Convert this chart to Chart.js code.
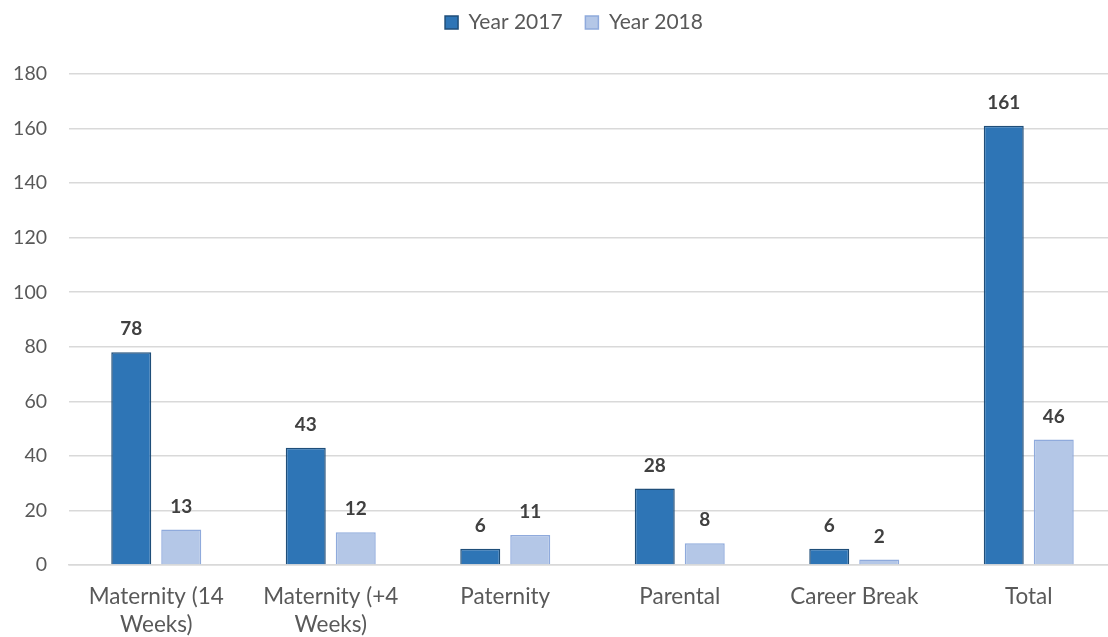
<!DOCTYPE html>
<html>
<head>
<meta charset="utf-8">
<script src="https://cdn.jsdelivr.net/npm/chart.js@4/dist/chart.umd.min.js"></script>
<style>
  html, body { margin: 0; padding: 0; background: #fff; overflow: hidden; }
  #wrap { width: 1176px; height: 637px; position: relative; }
</style>
</head>
<body>
<div id="wrap"><canvas id="leave"></canvas></div>
<script>
// leave taken by type, per year
var categories = [
    ['Maternity (14', 'Weeks)'],
    ['Maternity (+4', 'Weeks)'],
    'Paternity',
    'Parental',
    'Career Break',
    'Total'
];
var year2017 = [78, 43, 6, 28, 6, 161];
var year2018 = [13, 12, 11, 8, 2, 46];
var yTicks = [0, 20, 40, 60, 80, 100, 120, 140, 160, 180];

var FONT = "Lato, 'Open Sans', sans-serif";
var TEXT = '#595959';
var GRID = '#D9D9D9';
var LEGEND_HEIGHT = 74;
var LEGEND_SHIFT = 16;

// bold value above each bar
var valueLabels = {
    id: 'valueLabels',
    afterDatasetsDraw: function (chart) {
        var ctx = chart.ctx;
        ctx.save();
        ctx.font = 'bold 19px ' + FONT;
        ctx.fillStyle = '#404040';
        ctx.textAlign = 'center';
        ctx.textBaseline = 'alphabetic';
        chart.data.datasets.forEach(function (ds, i) {
            chart.getDatasetMeta(i).data.forEach(function (bar, j) {
                ctx.fillText(String(ds.data[j]), bar.x, bar.y - 17);
            });
        });
        ctx.restore();
    }
};

// fixed legend band so the plot starts lower, legend nudged right
var legendBand = {
    id: 'legendBand',
    beforeInit: function (chart) {
        var legend = chart.legend;
        var fit = legend.fit;
        var draw = legend.draw;
        legend.fit = function () {
            fit.call(this);
            this.height = LEGEND_HEIGHT;
        };
        legend.draw = function () {
            var ctx = this.ctx;
            ctx.save();
            ctx.translate(LEGEND_SHIFT, 0);
            draw.call(this);
            ctx.restore();
        };
    }
};

function barSet(label, values, fill, stroke) {
    return {
        label: label,
        data: values,
        backgroundColor: fill,
        borderColor: stroke,
        borderWidth: 1.5,
        categoryPercentage: 0.573,
        barPercentage: 0.8
    };
}

new Chart(document.getElementById('leave'), {
    type: 'bar',
    data: {
        labels: categories,
        datasets: [
            barSet('Year 2017', year2017, '#2E75B6', '#1F4E79'),
            barSet('Year 2018', year2018, '#B4C7E7', '#8FAADC')
        ]
    },
    options: {
        responsive: true,
        maintainAspectRatio: false,
        animation: false,
        layout: { padding: { left: 0, right: 60, top: 0, bottom: 0 } },
        plugins: {
            legend: {
                position: 'top',
                labels: {
                    boxWidth: 13,
                    boxHeight: 13,
                    padding: 12,
                    color: TEXT,
                    font: { family: FONT, size: 21 },
                    generateLabels: function (chart) {
                        var items = Chart.defaults.plugins.legend.labels.generateLabels(chart);
                        // wider gap after the first entry
                        items[0].text += '  ';
                        return items;
                    }
                }
            },
            tooltip: { enabled: false }
        },
        scales: {
            x: {
                grid: { display: false, drawTicks: false },
                border: { color: GRID, width: 1.5 },
                afterFit: function (scale) { scale.height = 72; },
                ticks: {
                    color: TEXT,
                    font: { family: FONT, size: 22.5, lineHeight: 1.25 },
                    padding: 18,
                    autoSkip: false,
                    maxRotation: 0
                }
            },
            y: {
                min: 0,
                max: 180,
                afterBuildTicks: function (scale) {
                    scale.ticks = yTicks.map(function (v) { return { value: v }; });
                },
                afterFit: function (scale) { scale.width = 69; },
                grid: { color: GRID, lineWidth: 1.5, drawTicks: false },
                border: { display: false },
                ticks: {
                    color: TEXT,
                    font: { family: FONT, size: 19.5 },
                    padding: 22
                }
            }
        }
    },
    plugins: [valueLabels, legendBand]
});
</script>
</body>
</html>
